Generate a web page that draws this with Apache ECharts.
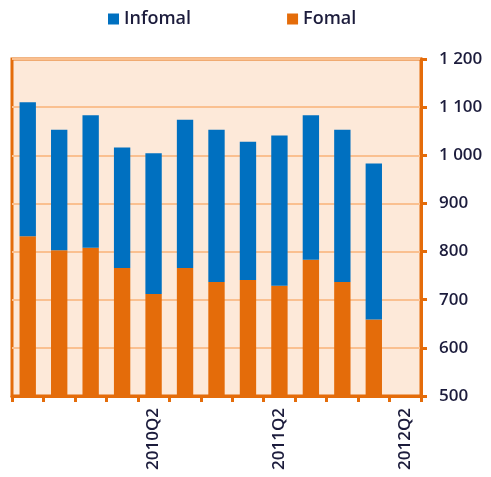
<!DOCTYPE html>
<html>
<head>
<meta charset="utf-8">
<script src="https://cdn.jsdelivr.net/npm/echarts@6/dist/echarts.min.js"></script>
<style>
  html, body { margin: 0; padding: 0; background: #fff; }
  #chart { width: 491px; height: 477px; }
</style>
</head>
<body>
<div id="chart"></div>
<script>
    // quarters, last one has no data
    var categories = ['2009Q2', '2009Q3', '2009Q4', '2010Q1', '2010Q2', '2010Q3', '2010Q4',
                      '2011Q1', '2011Q2', '2011Q3', '2011Q4', '2012Q1', '2012Q2'];
    var formal = [832, 803, 808, 766, 712, 766, 737, 741, 729, 783, 737, 659];
    var informal = [278, 250, 275, 250, 292, 308, 316, 287, 312, 300, 316, 324];
    var shownLabels = ['2010Q2', '2011Q2', '2012Q2'];

    var myChart = echarts.init(document.getElementById('chart'));
    var orange = '#E46C0A';
    var textColor = '#1C1C3C';
    var option = {
        animation: false,
        legend: {
            top: 5,
            left: 103,
            itemWidth: 11,
            itemHeight: 11,
            itemGap: 96,
            icon: 'rect',
            textStyle: { fontFamily: 'Open Sans', fontSize: 18, fontWeight: 600, color: textColor },
            data: ['Infomal', 'Fomal']
        },
        grid: {
            left: 12,
            right: 70,
            top: 59,
            bottom: 81,
            show: true,
            backgroundColor: '#FDE9D9',
            borderColor: orange,
            borderWidth: 3
        },
        xAxis: {
            type: 'category',
            data: categories,
            axisLine: { lineStyle: { color: orange, width: 3 } },
            axisTick: {
                show: true,
                inside: false,
                alignWithLabel: false,
                interval: 0,
                length: 6,
                lineStyle: { color: orange, width: 3 }
            },
            axisLabel: {
                interval: function (idx, val) { return shownLabels.indexOf(val) >= 0; },
                rotate: 90,
                margin: 12,
                fontFamily: 'Open Sans',
                fontSize: 17,
                fontWeight: 600,
                color: textColor
            }
        },
        yAxis: {
            type: 'value',
            position: 'right',
            min: 500,
            max: 1200,
            interval: 100,
            axisLine: { show: true, lineStyle: { color: orange, width: 3 } },
            axisTick: { show: true, length: 6, lineStyle: { color: orange, width: 3 } },
            splitLine: { lineStyle: { color: '#FAC090', width: 2 } },
            axisLabel: {
                margin: 18,
                fontFamily: 'Open Sans',
                fontSize: 17,
                fontWeight: 600,
                color: textColor,
                formatter: function (v) {
                    return String(v).replace(/\B(?=(\d{3})+(?!\d))/g, ' ');
                }
            }
        },
        series: [
            {
                name: 'Fomal',
                type: 'bar',
                stack: 'total',
                barWidth: '52%',
                itemStyle: { color: orange },
                data: formal
            },
            {
                name: 'Infomal',
                type: 'bar',
                stack: 'total',
                barWidth: '52%',
                itemStyle: { color: '#0070C0' },
                data: informal
            }
        ]
    };

    myChart.setOption(option);
</script>
</body>
</html>
